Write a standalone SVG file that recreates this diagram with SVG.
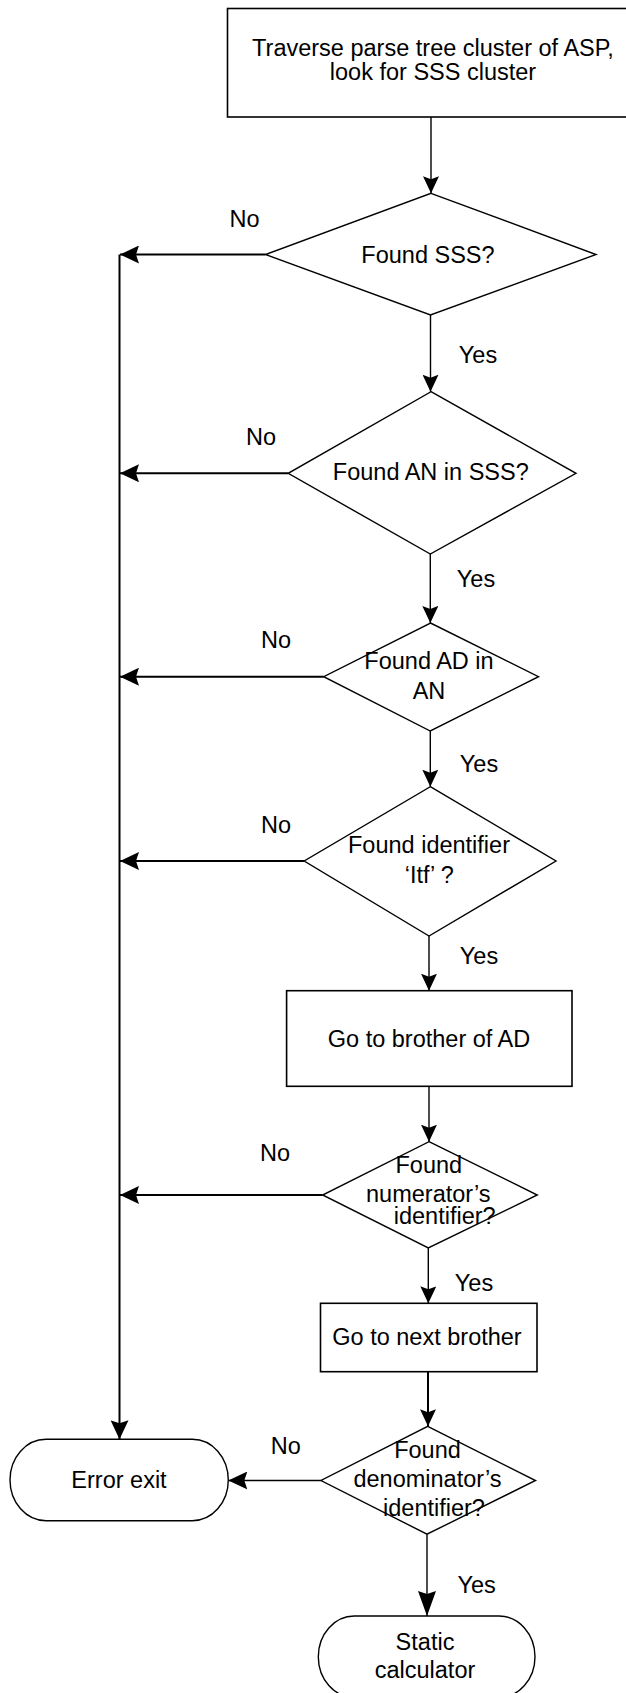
<svg xmlns="http://www.w3.org/2000/svg" width="626" height="1693" viewBox="0 0 626 1693">
  <style>
    .shape { fill: #ffffff; stroke: #000000; stroke-width: 1.4; }
    .box { fill: #ffffff; stroke: #000000; stroke-width: 1.6; }
    .flow { fill: none; stroke: #000000; stroke-width: 1.4; }
    .branch { fill: none; stroke: #000000; stroke-width: 2; }
    .lbl { font-family: "Liberation Sans", Arial, Helvetica, sans-serif; font-size: 23.5px; fill: #000000; text-anchor: middle; }
  </style>
  <defs>
    <marker id="head" viewBox="0 0 17 16" refX="17" refY="8" markerWidth="17" markerHeight="16" markerUnits="userSpaceOnUse" orient="auto">
      <path d="M0,0 L17,8 L0,16 L3,8 z" fill="#000000"/>
    </marker>
    <marker id="headL" viewBox="0 0 19 18" refX="19" refY="9" markerWidth="19" markerHeight="18" markerUnits="userSpaceOnUse" orient="auto">
      <path d="M0,0 L19,9 L0,18 L3,9 z" fill="#000000"/>
    </marker>
    <marker id="headTall" viewBox="0 0 25 18" refX="25" refY="9" markerWidth="25" markerHeight="18" markerUnits="userSpaceOnUse" orient="auto">
      <path d="M0,0 L25,9 L0,18 L3,9 z" fill="#000000"/>
    </marker>
  </defs>

  <rect width="626" height="1693" fill="#ffffff"/>

  <!-- connectors -->
  <g id="connectors">
    <path class="flow" d="M431,117 V193.3" marker-end="url(#head)"/>
    <path class="flow" d="M430.5,315 V391.7" marker-end="url(#head)"/>
    <path class="flow" d="M430.3,554 V623" marker-end="url(#head)"/>
    <path class="flow" d="M430.3,731 V786.7" marker-end="url(#head)"/>
    <path class="flow" d="M429,936 V990.7" marker-end="url(#head)"/>
    <path class="flow" d="M429,1086.3 V1141.7" marker-end="url(#head)"/>
    <path class="flow" d="M428.3,1248 V1303.3" marker-end="url(#head)"/>
    <path class="branch" d="M428,1371.7 V1426.3" marker-end="url(#head)"/>
    <path class="flow" d="M427,1534.2 V1616" marker-end="url(#headTall)"/>

    <path class="branch" d="M265.5,254.5 H120" marker-end="url(#headL)"/>
    <path class="branch" d="M288.2,473.3 H120" marker-end="url(#headL)"/>
    <path class="branch" d="M323.7,676.7 H120" marker-end="url(#headL)"/>
    <path class="branch" d="M304.2,861 H120" marker-end="url(#headL)"/>
    <path class="branch" d="M322.6,1195 H120" marker-end="url(#headL)"/>
    <path class="flow" d="M321,1480.5 H228.3" marker-end="url(#headL)"/>

    <path class="branch" d="M119.5,254.5 V1439.3" marker-end="url(#headL)"/>

    <text class="lbl" x="244.5" y="226.7">No</text>
    <text class="lbl" x="261" y="445">No</text>
    <text class="lbl" x="276" y="647.7">No</text>
    <text class="lbl" x="276" y="833.3">No</text>
    <text class="lbl" x="275" y="1161">No</text>
    <text class="lbl" x="285.7" y="1454">No</text>

    <text class="lbl" x="478" y="363.3">Yes</text>
    <text class="lbl" x="476" y="587.3">Yes</text>
    <text class="lbl" x="479" y="771.7">Yes</text>
    <text class="lbl" x="479" y="964">Yes</text>
    <text class="lbl" x="474" y="1290.7">Yes</text>
    <text class="lbl" x="476.7" y="1593.3">Yes</text>
  </g>

  <!-- process: traverse -->
  <g id="traverse">
    <rect class="box" x="227.5" y="8.5" width="410" height="108.5"/>
    <text class="lbl" x="433" y="55.5">Traverse parse tree cluster of ASP,</text>
    <text class="lbl" x="433" y="80">look for SSS cluster</text>
  </g>

  <!-- decision: found SSS -->
  <g id="found-sss">
    <polygon class="shape" points="431,193.3 596,254.5 430.5,315 265.5,254.5"/>
    <text class="lbl" x="428" y="262.5">Found SSS?</text>
  </g>

  <!-- decision: found AN in SSS -->
  <g id="found-an">
    <polygon class="shape" points="431,391.7 576,473.3 430.3,554 288.2,473.3"/>
    <text class="lbl" x="430.8" y="480">Found AN in SSS?</text>
  </g>

  <!-- decision: found AD in AN -->
  <g id="found-ad">
    <polygon class="shape" points="430.5,623 538.5,676.7 430.3,731 323.7,676.7"/>
    <text class="lbl" x="429" y="669.3">Found AD in</text>
    <text class="lbl" x="429" y="699">AN</text>
  </g>

  <!-- decision: found identifier Itf -->
  <g id="found-itf">
    <polygon class="shape" points="430.3,786.7 556,861 429,936 304.2,861"/>
    <text class="lbl" x="429" y="853.3">Found identifier</text>
    <text class="lbl" x="429.3" y="882.7">‘Itf’ ?</text>
  </g>

  <!-- process: brother of AD -->
  <g id="brother-of-ad">
    <rect class="box" x="286.6" y="990.7" width="285.4" height="95.6"/>
    <text class="lbl" x="429" y="1046.5">Go to brother of AD</text>
  </g>

  <!-- decision: numerator identifier -->
  <g id="found-numerator">
    <polygon class="shape" points="429,1141.7 537.3,1195 428.3,1248 322.6,1195"/>
    <text class="lbl" x="428.8" y="1172.7">Found</text>
    <text class="lbl" x="428.3" y="1201.7">numerator’s</text>
    <text class="lbl" x="444.7" y="1224">identifier?</text>
  </g>

  <!-- process: next brother -->
  <g id="next-brother">
    <rect class="box" x="320.5" y="1303.3" width="216.5" height="68.4"/>
    <text class="lbl" x="427" y="1345">Go to next brother</text>
  </g>

  <!-- decision: denominator identifier -->
  <g id="found-denominator">
    <polygon class="shape" points="427.7,1426.3 535.5,1480.5 427,1534.2 321,1480.5"/>
    <text class="lbl" x="427.5" y="1458.3">Found</text>
    <text class="lbl" x="427.5" y="1486.7">denominator’s</text>
    <text class="lbl" x="434" y="1516.3">identifier?</text>
  </g>

  <!-- terminal: error exit -->
  <g id="error-exit">
    <rect class="shape" x="10" y="1439.3" width="218.3" height="81.4" rx="36" ry="40.7"/>
    <text class="lbl" x="119" y="1488.3">Error exit</text>
  </g>

  <!-- terminal: static calculator -->
  <g id="static-calculator">
    <rect class="shape" x="318.3" y="1616" width="216.7" height="81.4" rx="36" ry="40.7"/>
    <text class="lbl" x="425" y="1650">Static</text>
    <text class="lbl" x="425" y="1678">calculator</text>
  </g>
</svg>
